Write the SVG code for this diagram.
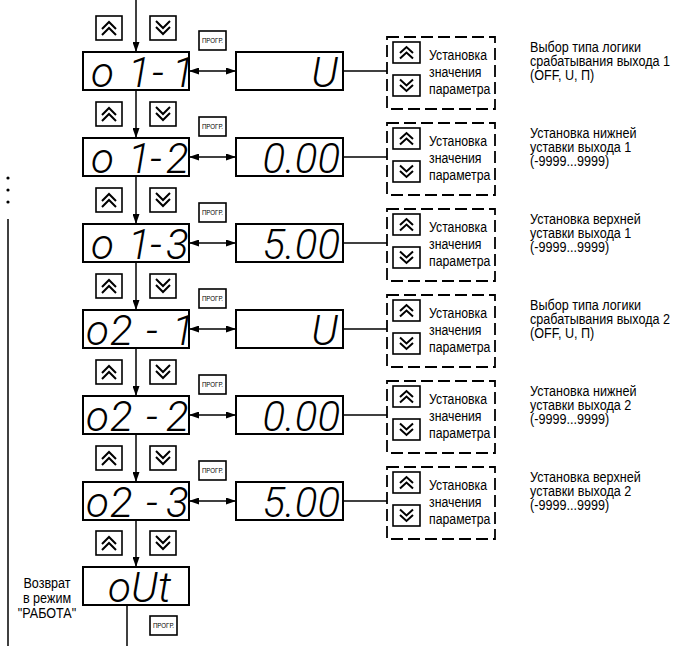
<svg xmlns="http://www.w3.org/2000/svg" xmlns:xlink="http://www.w3.org/1999/xlink" width="673" height="646" viewBox="0 0 673 646">
<style>
.box{fill:#fff;stroke:#000;stroke-width:1.6}
.disp{fill:#fff;stroke:#000;stroke-width:2}
.dash{fill:none;stroke:#000;stroke-width:1.8;stroke-dasharray:12 5}
.chev{fill:none;stroke:#000;stroke-width:2}
.ln{fill:none;stroke:#000;stroke-width:1.5}
.seg{font-family:Roboto,"Liberation Sans",sans-serif;font-style:italic;font-weight:300;font-size:42px;fill:#000}
.lbl{font-family:"Liberation Sans Narrow","Arial Narrow","Liberation Sans",Arial,sans-serif;font-size:15px;fill:#000}
.prg{font-family:"Liberation Sans Narrow","Arial Narrow","Liberation Sans",sans-serif;font-size:7.5px;fill:#000;text-anchor:middle}
.ctr{text-anchor:middle}
.end{text-anchor:end}
</style>
<defs>
<marker id="ah" viewBox="0 0 10 7" refX="10" refY="3.5" markerWidth="10" markerHeight="7" markerUnits="userSpaceOnUse" orient="auto-start-reverse"><path d="M0,0L10,3.5L0,7z" fill="#000"/></marker>
<g id="btnUp"><rect class="box" x="0" y="0" width="26" height="24"/><polyline class="chev" points="6,13 13,6 20,13"/><polyline class="chev" points="6,19 13,12 20,19"/></g>
<g id="btnDn"><rect class="box" x="0" y="0" width="26" height="24"/><polyline class="chev" points="6,5 13,12 20,5"/><polyline class="chev" points="6,11 13,18 20,11"/></g>
<g id="ibtnUp"><rect class="box" x="0" y="0" width="27" height="21"/><polyline class="chev" points="7,11 13.5,5 20,11"/><polyline class="chev" points="7,16.5 13.5,10.5 20,16.5"/></g>
<g id="ibtnDn"><rect class="box" x="0" y="0" width="27" height="21"/><polyline class="chev" points="7,4.5 13.5,10.5 20,4.5"/><polyline class="chev" points="7,10 13.5,16 20,10"/></g>
<g id="prog"><rect class="box" x="0" y="0" width="27" height="19"/><g transform="translate(13.5 12) scale(0.82 1)"><text class="prg" x="0" y="0">ПРОГР.</text></g></g>
<g id="setbox"><rect class="dash" x="0" y="0" width="108" height="72"/><use xlink:href="#ibtnUp" x="6" y="5"/><use xlink:href="#ibtnDn" x="6" y="38"/><g transform="translate(42 0) scale(0.82 1)"><text class="lbl" x="0" y="23">Установка</text><text class="lbl" x="0" y="40">значения</text><text class="lbl" x="0" y="57">параметра</text></g></g>
</defs>

<g id="connectors">
<line class="ln" x1="136" y1="0" x2="136" y2="52" marker-end="url(#ah)"/>
<line class="ln" x1="136" y1="90" x2="136" y2="138" marker-end="url(#ah)"/>
<line class="ln" x1="136" y1="176" x2="136" y2="224" marker-end="url(#ah)"/>
<line class="ln" x1="136" y1="262" x2="136" y2="310" marker-end="url(#ah)"/>
<line class="ln" x1="136" y1="348" x2="136" y2="396" marker-end="url(#ah)"/>
<line class="ln" x1="136" y1="434" x2="136" y2="482" marker-end="url(#ah)"/>
<line class="ln" x1="136" y1="520" x2="136" y2="567" marker-end="url(#ah)"/>
<line class="ln" x1="127" y1="605" x2="127" y2="646"/>
<line class="ln" x1="189" y1="71" x2="236" y2="71" marker-start="url(#ah)" marker-end="url(#ah)"/>
<line class="ln" x1="189" y1="157" x2="236" y2="157" marker-start="url(#ah)" marker-end="url(#ah)"/>
<line class="ln" x1="189" y1="243" x2="236" y2="243" marker-start="url(#ah)" marker-end="url(#ah)"/>
<line class="ln" x1="189" y1="329" x2="236" y2="329" marker-start="url(#ah)" marker-end="url(#ah)"/>
<line class="ln" x1="189" y1="415" x2="236" y2="415" marker-start="url(#ah)" marker-end="url(#ah)"/>
<line class="ln" x1="189" y1="501" x2="236" y2="501" marker-start="url(#ah)" marker-end="url(#ah)"/>
<line class="ln" x1="343" y1="71" x2="387" y2="71"/>
<line class="ln" x1="343" y1="157" x2="387" y2="157"/>
<line class="ln" x1="343" y1="243" x2="387" y2="243"/>
<line class="ln" x1="343" y1="329" x2="387" y2="329"/>
<line class="ln" x1="343" y1="415" x2="387" y2="415"/>
<line class="ln" x1="343" y1="501" x2="387" y2="501"/>
<line class="ln" x1="8" y1="219" x2="8" y2="646"/>
<circle cx="8" cy="178" r="1.6"/>
<circle cx="8" cy="190" r="1.6"/>
<circle cx="8" cy="202" r="1.6"/>
</g>

<!-- Row 1 -->
<g id="buttons-1"><use xlink:href="#btnUp" x="96" y="16"/><use xlink:href="#btnDn" x="150" y="16"/></g>
<g id="disp-o1-1"><rect class="disp" x="83" y="52" width="106" height="38"/><text class="seg" x="91 128 152 172" y="87">o1-1</text></g>
<g id="prog-1"><use xlink:href="#prog" x="199" y="31"/></g>
<g id="val-1"><rect class="disp" x="236" y="52" width="107" height="38"/><text class="seg end" x="338" y="87">U</text></g>
<g id="set-1"><use xlink:href="#setbox" x="387" y="37"/></g>
<g id="desc-1" transform="translate(530 0) scale(0.84 1)"><text class="lbl" x="0" y="52">Выбор типа логики</text><text class="lbl" x="0" y="66">срабатывания выхода 1</text><text class="lbl" x="0" y="80">(OFF, U, П)</text></g>

<!-- Row 2 -->
<g id="buttons-2"><use xlink:href="#btnUp" x="96" y="102"/><use xlink:href="#btnDn" x="150" y="102"/></g>
<g id="disp-o1-2"><rect class="disp" x="83" y="138" width="106" height="38"/><text class="seg" x="91 128 150 166" y="173">o1-2</text></g>
<g id="prog-2"><use xlink:href="#prog" x="199" y="117"/></g>
<g id="val-2"><rect class="disp" x="236" y="138" width="107" height="38"/><text class="seg end" x="340" y="173">0.00</text></g>
<g id="set-2"><use xlink:href="#setbox" x="387" y="123"/></g>
<g id="desc-2" transform="translate(530 0) scale(0.84 1)"><text class="lbl" x="0" y="138">Установка нижней</text><text class="lbl" x="0" y="152">уставки выхода 1</text><text class="lbl" x="0" y="166">(-9999...9999)</text></g>

<!-- Row 3 -->
<g id="buttons-3"><use xlink:href="#btnUp" x="96" y="188"/><use xlink:href="#btnDn" x="150" y="188"/></g>
<g id="disp-o1-3"><rect class="disp" x="83" y="224" width="106" height="38"/><text class="seg" x="91 128 150 166" y="259">o1-3</text></g>
<g id="prog-3"><use xlink:href="#prog" x="199" y="203"/></g>
<g id="val-3"><rect class="disp" x="236" y="224" width="107" height="38"/><text class="seg end" x="340" y="259">5.00</text></g>
<g id="set-3"><use xlink:href="#setbox" x="387" y="209"/></g>
<g id="desc-3" transform="translate(530 0) scale(0.84 1)"><text class="lbl" x="0" y="224">Установка верхней</text><text class="lbl" x="0" y="238">уставки выхода 1</text><text class="lbl" x="0" y="252">(-9999...9999)</text></g>

<!-- Row 4 -->
<g id="buttons-4"><use xlink:href="#btnUp" x="96" y="274"/><use xlink:href="#btnDn" x="150" y="274"/></g>
<g id="disp-o2-1"><rect class="disp" x="83" y="310" width="106" height="38"/><text class="seg" x="86 110 146 172" y="345">o2-1</text></g>
<g id="prog-4"><use xlink:href="#prog" x="199" y="289"/></g>
<g id="val-4"><rect class="disp" x="236" y="310" width="107" height="38"/><text class="seg end" x="338" y="345">U</text></g>
<g id="set-4"><use xlink:href="#setbox" x="387" y="295"/></g>
<g id="desc-4" transform="translate(530 0) scale(0.84 1)"><text class="lbl" x="0" y="310">Выбор типа логики</text><text class="lbl" x="0" y="324">срабатывания выхода 2</text><text class="lbl" x="0" y="338">(OFF, U, П)</text></g>

<!-- Row 5 -->
<g id="buttons-5"><use xlink:href="#btnUp" x="96" y="360"/><use xlink:href="#btnDn" x="150" y="360"/></g>
<g id="disp-o2-2"><rect class="disp" x="83" y="396" width="106" height="38"/><text class="seg" x="86 110 146 166" y="431">o2-2</text></g>
<g id="prog-5"><use xlink:href="#prog" x="199" y="375"/></g>
<g id="val-5"><rect class="disp" x="236" y="396" width="107" height="38"/><text class="seg end" x="340" y="431">0.00</text></g>
<g id="set-5"><use xlink:href="#setbox" x="387" y="381"/></g>
<g id="desc-5" transform="translate(530 0) scale(0.84 1)"><text class="lbl" x="0" y="396">Установка нижней</text><text class="lbl" x="0" y="410">уставки выхода 2</text><text class="lbl" x="0" y="424">(-9999...9999)</text></g>

<!-- Row 6 -->
<g id="buttons-6"><use xlink:href="#btnUp" x="96" y="446"/><use xlink:href="#btnDn" x="150" y="446"/></g>
<g id="disp-o2-3"><rect class="disp" x="83" y="482" width="106" height="38"/><text class="seg" x="86 110 146 166" y="517">o2-3</text></g>
<g id="prog-6"><use xlink:href="#prog" x="199" y="461"/></g>
<g id="val-6"><rect class="disp" x="236" y="482" width="107" height="38"/><text class="seg end" x="340" y="517">5.00</text></g>
<g id="set-6"><use xlink:href="#setbox" x="387" y="467"/></g>
<g id="desc-6" transform="translate(530 0) scale(0.84 1)"><text class="lbl" x="0" y="482">Установка верхней</text><text class="lbl" x="0" y="496">уставки выхода 2</text><text class="lbl" x="0" y="510">(-9999...9999)</text></g>

<!-- Row 7 -->
<g id="buttons-7"><use xlink:href="#btnUp" x="96" y="531"/><use xlink:href="#btnDn" x="150" y="531"/></g>
<g id="disp-out"><rect class="disp" x="83" y="567" width="106" height="38"/><text class="seg" x="108 131 158" y="602">oUt</text></g>
<g id="prog-7"><use xlink:href="#prog" x="150" y="616"/></g>
<g id="return-label" transform="translate(47 0) scale(0.84 1)"><text class="lbl ctr" x="0" y="588">Возврат</text><text class="lbl ctr" x="0" y="603">в режим</text><text class="lbl ctr" x="0" y="618">"РАБОТА"</text></g>
</svg>
